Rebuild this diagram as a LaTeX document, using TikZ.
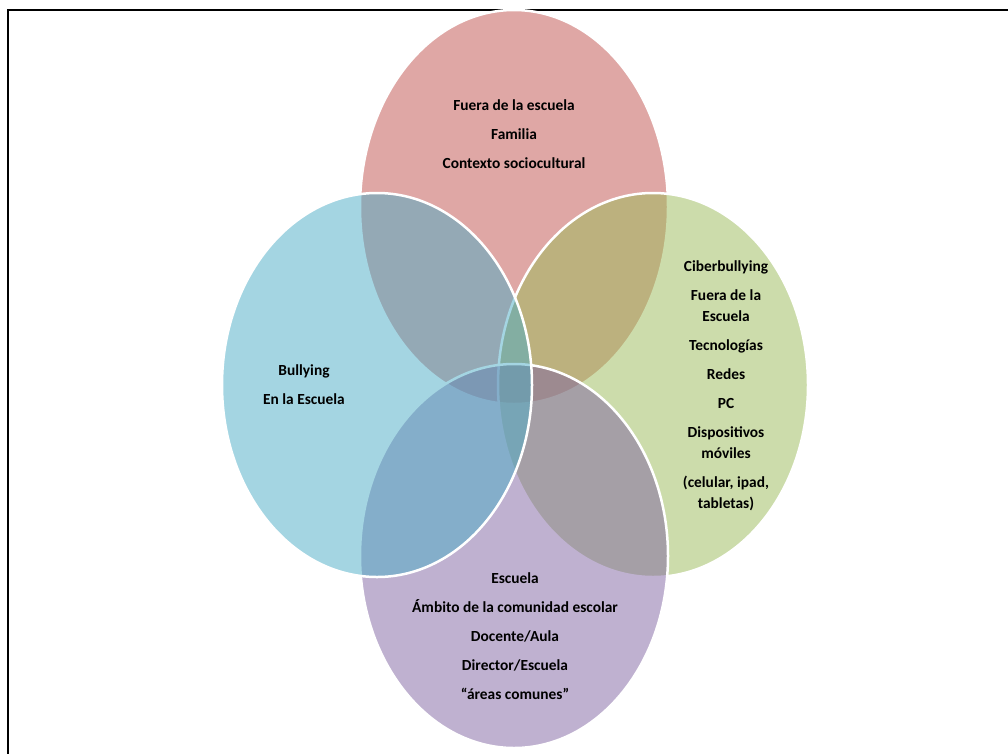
\documentclass[tikz,border=0pt]{standalone}
\usepackage{fontspec}
\setmainfont{Carlito}
\definecolor{vred}{HTML}{C0504D}
\definecolor{vblue}{HTML}{4BACC6}
\definecolor{vgreen}{HTML}{9BBB59}
\definecolor{vpurple}{HTML}{8064A2}
\begin{document}
\begin{tikzpicture}[x=1pt,y=-1pt,
  venn/.style={fill=#1, fill opacity=0.5, draw=white, draw opacity=1, line width=2.5pt},
  lbl/.style={font=\bfseries\fontsize{15.4}{21}\selectfont, align=center, inner sep=0pt, text=black, text opacity=1}]
\useasboundingbox (0,0) rectangle (1008,753);
\fill[white] (0,0) rectangle (1008,753);
\draw[line width=2pt] (8,754) -- (8,10) -- (1009,10);
% circles (clockwise from top)
\path[venn=vred] (514,207) ellipse [x radius=154pt, y radius=197pt];
\path[venn=vgreen] (653,385) ellipse [x radius=155pt, y radius=192pt];
\path[venn=vpurple] (514,556) ellipse [x radius=154pt, y radius=192pt];
\path[venn=vblue] (377,385) ellipse [x radius=155pt, y radius=192pt];
% labels
\node[lbl] (top) at (514,134) {Fuera de la escuela\\[8pt]Familia\\[8pt]Contexto sociocultural};
\node[lbl] (right) at (726,386) {Ciberbullying\\[8pt]Fuera de la\\Escuela\\[8pt]Tecnologías\\[8pt]Redes\\[8pt]PC\\[8pt]Dispositivos\\móviles\\[8pt](celular, ipad,\\tabletas)};
\node[lbl] (left) at (304,385) {Bullying\\[8pt]En la Escuela};
\node[lbl] (bottom) at (515,636) {Escuela\\[8pt]Ámbito de la comunidad escolar\\[8pt]Docente/Aula\\[8pt]Director/Escuela\\[8pt]“áreas comunes”};
\end{tikzpicture}
\end{document}
